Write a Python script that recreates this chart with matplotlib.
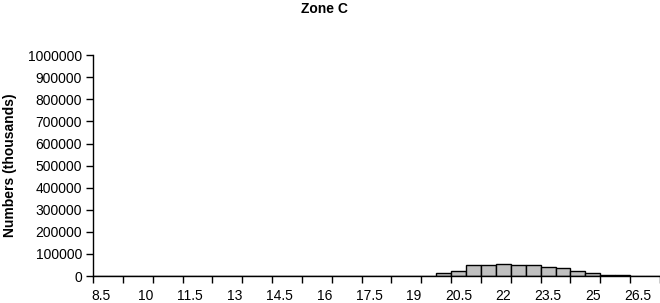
import numpy as np
import matplotlib.pyplot as plt

plt.rcParams['font.family'] = ['Liberation Sans', 'DejaVu Sans']

# Length classes (cm) and numbers (thousands)
lengths = ['8.5', '9', '9.5', '10', '10.5', '11', '11.5', '12', '12.5', '13',
           '13.5', '14', '14.5', '15', '15.5', '16', '16.5', '17', '17.5', '18',
           '18.5', '19', '19.5', '20', '20.5', '21', '21.5', '22', '22.5', '23',
           '23.5', '24', '24.5', '25', '25.5', '26', '26.5', '27']
numbers = [0, 0, 0, 0, 0, 0, 0, 0, 0, 0,
           0, 0, 0, 0, 0, 0, 0, 0, 0, 0,
           0, 0, 0, 12000, 24000, 50000, 50000, 55000, 50000, 50000,
           40000, 36000, 22000, 13000, 4000, 3000, 0, 0]
yticks = [0, 100000, 200000, 300000, 400000, 500000,
          600000, 700000, 800000, 900000, 1000000]

fig = plt.figure(figsize=(6.6, 3.03), dpi=100)
ax = fig.add_axes([0.141, 0.089, 0.859, 0.729])

x = np.arange(len(lengths))
ax.bar(x + 0.5, numbers, width=1.0, color='#c0c0c0', edgecolor='black', linewidth=1.0)

ax.set_xlim(0, len(lengths))
ax.set_ylim(0, 1000000)

# major ticks every 2 classes, labels every 3 classes
ax.set_xticks(np.arange(0, len(lengths) + 1, 2))
ax.set_xticklabels([])
ax.set_xticks(x[::3] + 0.5, minor=True)
ax.set_xticklabels(lengths[::3], minor=True, fontsize=10)
ax.tick_params(axis='x', which='major', direction='out', length=5, width=1)
ax.tick_params(axis='x', which='minor', length=0, pad=9)

ax.set_yticks(yticks)
ax.set_yticklabels([str(v) for v in yticks], fontsize=10)
ax.tick_params(axis='y', direction='out', length=5, width=1, pad=3)

for s in ['top', 'right']:
    ax.spines[s].set_visible(False)
for s in ['left', 'bottom']:
    ax.spines[s].set_linewidth(1)

ax.set_ylabel('Numbers (thousands)', fontsize=10, fontweight='bold', labelpad=8)
fig.text(0.492, 0.995, 'Zone C', ha='center', va='top', fontsize=10, fontweight='bold')

fig.savefig('out.png', dpi=100)
